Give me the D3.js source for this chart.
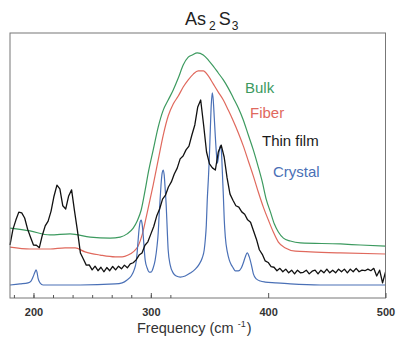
<!DOCTYPE html>
<html>
<head>
<meta charset="utf-8">
<script src="https://cdn.jsdelivr.net/npm/d3@7"></script>
<style>
  html, body { margin: 0; padding: 0; background: #fff; }
  svg { display: block; font-family: "Liberation Sans", Arial, sans-serif; }
</style>
</head>
<body>
<svg id="chart" width="400" height="342"></svg>
<script>
// Raman spectra of As2S3 in four forms (intensity in arbitrary units, curves offset)

// Bulk glass: [frequency cm^-1, intensity]
const bulk = [
  [180, 26.4], [197.1, 25.3], [214.1, 23.8], [231.2, 24.2], [248.3, 23.0], [265.3, 22.6],
  [273.9, 23.0], [279.8, 24.2], [285, 26.4], [288.4, 29.1], [291.8, 33.2], [295.2, 40.8],
  [297.8, 47.2], [302, 55.8], [306.3, 64.5], [310.6, 70.9], [314.8, 74.7], [319.1, 78.5],
  [323.4, 83.0], [327.6, 87.9], [331.9, 90.9], [335.3, 91.7], [339.6, 92.5], [344.7, 91.7],
  [349, 89.8], [353.2, 87.5], [357.5, 84.9], [361.8, 82.3], [366, 79.2], [370.3, 75.5],
  [374.6, 71.7], [378.8, 67.2], [383.1, 61.5], [387.4, 55.8], [391.6, 49.4], [395, 43.8],
  [398.5, 37.0], [401.9, 32.5], [405.3, 27.9], [408.7, 24.9], [413, 22.6], [418.9, 21.5],
  [427.5, 20.8], [461.6, 20.4], [478.7, 20.0], [500, 19.6]
];

// Fiber
const fiber = [
  [180, 19.2], [197.1, 18.5], [214.1, 18.5], [226.9, 18.9], [235.5, 18.9], [244, 17.4],
  [256.8, 16.2], [269.6, 15.5], [275.6, 15.5], [280.7, 16.2], [285, 17.4], [289.2, 19.6],
  [292.6, 23.8], [295.2, 28.7], [297.8, 34.0], [302, 42.6], [306.3, 52.1], [310.6, 61.5],
  [314.8, 68.7], [319.1, 73.2], [323.4, 76.2], [327.6, 79.6], [331.9, 82.3], [336.2, 84.5],
  [340.4, 85.7], [344.7, 85.7], [349, 83.8], [353.2, 80.8], [357.5, 77.7], [361.8, 74.7],
  [366, 70.9], [370.3, 66.8], [374.6, 62.3], [378.8, 57.4], [383.1, 51.7], [387.4, 46.0],
  [391.6, 40.0], [395.9, 34.3], [400.2, 29.4], [404.4, 24.9], [408.7, 21.1], [414.7, 18.9],
  [423.2, 17.7], [436, 17.4], [461.6, 17.0], [500, 16.6]
];

// Thin film, sampled every 2.5 cm^-1 from 180 to 500 (noisy measurement)
const filmStart = 180, filmStep = 2.5;
const filmIntensity = [
  20.0, 25.9, 29.4, 32.4, 32.1, 30.2, 26.0, 22.9, 20.0, 19.9,
  19.0, 23.6, 27.2, 29.0, 32.8, 38.4, 42.6, 41.2, 34.8, 33.6,
  38.5, 40.8, 32.8, 25.3, 17.0, 14.7, 12.4, 12.5, 10.6, 12.0,
  10.3, 11.6, 9.9, 11.5, 10.3, 11.9, 10.6, 12.0, 11.0, 12.4,
  11.4, 12.9, 13.3, 14.4, 16.2, 17.0, 19.9, 21.2, 24.1, 27.0,
  30.9, 33.6, 37.3, 38.8, 41.9, 43.8, 46.8, 49.0, 52.5, 53.6,
  55.9, 57.3, 61.5, 65.3, 72.1, 74.7, 65.3, 55.1, 50.6, 49.1,
  48.3, 55.1, 57.7, 53.2, 45.3, 39.2, 36.9, 34.8, 34.3, 32.5,
  31.6, 29.5, 28.6, 25.4, 22.2, 18.2, 16.5, 14.0, 13.4, 11.8,
  11.6, 10.3, 11.2, 9.9, 10.9, 9.5, 10.5, 9.1, 10.5, 9.5,
  9.7, 10.5, 9.1, 10.1, 10.5, 9.1, 10.5, 9.5, 10.9, 9.5,
  10.5, 9.5, 10.9, 9.9, 10.9, 9.5, 10.9, 9.9, 11.2, 9.9,
  10.5, 10.3, 10.9, 10.3, 11.2, 8.3, 10.5, 5.7, 9.8
];

// Crystal
const crystal = [
  [180, 4.9], [188.5, 5.3], [195.4, 5.7], [197.9, 6.4], [199.6, 7.9], [201.3, 9.8],
  [202.2, 10.6], [203, 9.8], [203.9, 7.5], [205.6, 5.7], [208.2, 4.9], [239.7, 4.9],
  [269.6, 5.3], [275.6, 5.7], [279.8, 6.8], [283.3, 8.3], [285.8, 10.6], [287.5, 13.6],
  [288.4, 17.4], [289.2, 21.9], [290.1, 26.4], [290.9, 28.7], [291.8, 29.4], [292.6, 27.9],
  [293.5, 23.8], [294.3, 18.9], [295.2, 14.3], [296.9, 11.3], [298.6, 9.8], [300.3, 9.8],
  [302, 11.3], [303.7, 14.3], [305.4, 20.0], [306.3, 24.5], [307.1, 31.3], [308, 37.7],
  [308.9, 43.8], [309.7, 47.2], [310.6, 48.3], [311.4, 46.4], [312.3, 40.8], [313.1, 35.1],
  [314, 25.7], [314.8, 18.1], [316.5, 12.5], [319.1, 9.4], [321.7, 8.3], [325.1, 7.9],
  [329.3, 8.3], [333.6, 9.4], [337.9, 10.9], [341.3, 12.8], [343.8, 15.1], [345.5, 18.1],
  [346.4, 21.9], [347.3, 27.5], [348.1, 37.0], [349, 44.5], [349.8, 52.1], [350.7, 63.4],
  [351.5, 72.8], [352.4, 77.4], [353.2, 74.7], [354.1, 67.9], [354.9, 61.5], [355.8, 55.1],
  [356.7, 50.9], [357.5, 52.8], [358.4, 55.8], [359.2, 57.4], [360.1, 55.8], [360.9, 48.3],
  [361.8, 38.9], [362.6, 29.4], [363.5, 23.0], [365.2, 17.4], [366.9, 14.3], [368.6, 12.5],
  [370.3, 11.3], [372, 10.2], [374.6, 10.2], [377.1, 11.3], [378.8, 13.2], [380.5, 15.5],
  [382.2, 17.0], [383.9, 15.5], [385.7, 12.5], [387.4, 9.1], [389.9, 7.2], [393.3, 6.4],
  [397.6, 6.0], [406.1, 5.7], [418.9, 5.3], [444.5, 4.9], [500, 4.9]
];

const majorTicks = [200, 300, 400, 500];
const minorTicks = d3.range(6, 20).map(i => i * 100 / 6);

const seriesLabels = [
  { name: "Bulk",      color: "#3c9a5f", x: 245, y: 92.5 },
  { name: "Fiber",     color: "#e0695d", x: 250, y: 118 },
  { name: "Thin film", color: "#1a1a1a", x: 262, y: 146 },
  { name: "Crystal",   color: "#4a70b6", x: 273, y: 177 }
];

const svg = d3.select("#chart");
const plot = { left: 10, right: 385.5, top: 33, bottom: 298 };

const x = d3.scaleLinear().domain([180, 500]).range([plot.left, plot.right]);
const y = d3.scaleLinear().domain([0, 100]).range([plot.bottom, plot.top]);

// title with subscripts
const title = svg.append("text")
  .attr("x", 185).attr("y", 25)
  .attr("font-size", 18).attr("fill", "#222");
title.append("tspan").text("As");
title.append("tspan").attr("dx", 3).attr("dy", 5).attr("font-size", 12).text("2");
title.append("tspan").attr("dx", 3).attr("dy", -5).text("S");
title.append("tspan").attr("dx", 1).attr("dy", 5).attr("font-size", 12).text("3");

// spectra
const line = d3.line().x(d => x(d[0])).y(d => y(d[1])).curve(d3.curveMonotoneX);
const film = filmIntensity.map((v, i) => [filmStart + i * filmStep, v]);
const filmLine = d3.line().x(d => x(d[0])).y(d => y(d[1]));

const g = svg.append("g");
g.append("path").attr("d", line(bulk)).attr("fill", "none")
  .attr("stroke", "#3c9a5f").attr("stroke-width", 1.2);
g.append("path").attr("d", line(fiber)).attr("fill", "none")
  .attr("stroke", "#e0695d").attr("stroke-width", 1.2);
g.append("path").attr("d", line(crystal)).attr("fill", "none")
  .attr("stroke", "#4a70b6").attr("stroke-width", 1.2);
g.append("path").attr("d", filmLine(film)).attr("fill", "none")
  .attr("stroke", "#111").attr("stroke-width", 1.3).attr("stroke-linejoin", "round");

// frame
svg.append("rect")
  .attr("x", plot.left).attr("y", plot.top)
  .attr("width", plot.right - plot.left).attr("height", plot.bottom - plot.top)
  .attr("fill", "none").attr("stroke", "#777").attr("stroke-width", 1);

// bottom axis: inward ticks
const minorAxis = svg.append("g").attr("transform", `translate(0,${plot.bottom})`)
  .call(d3.axisBottom(x).tickValues(minorTicks).tickSize(-3).tickFormat(""));
minorAxis.select(".domain").remove();
minorAxis.selectAll("line").attr("stroke", "#555");

const majorAxis = svg.append("g").attr("transform", `translate(0,${plot.bottom})`)
  .call(d3.axisBottom(x).tickValues(majorTicks).tickSize(-5).tickPadding(10).tickFormat(d3.format("d")));
majorAxis.select(".domain").remove();
majorAxis.selectAll("line").attr("stroke", "#555");
majorAxis.selectAll("text")
  .attr("font-family", "Liberation Sans, Arial, sans-serif")
  .attr("font-size", 11).attr("font-weight", "bold").attr("fill", "#333");

// x-axis title
const xt = svg.append("text")
  .attr("x", 137).attr("y", 333)
  .attr("font-size", 14.5).attr("fill", "#333");
xt.append("tspan").text("Frequency (cm");
xt.append("tspan").attr("dx", 4).attr("dy", -6).attr("font-size", 9).text("-1");
xt.append("tspan").attr("dx", 1).attr("dy", 6).text(")");

// series labels
svg.append("g").selectAll("text").data(seriesLabels).join("text")
  .attr("x", d => d.x).attr("y", d => d.y)
  .attr("font-size", 15).attr("fill", d => d.color)
  .text(d => d.name);
</script>
</body>
</html>
